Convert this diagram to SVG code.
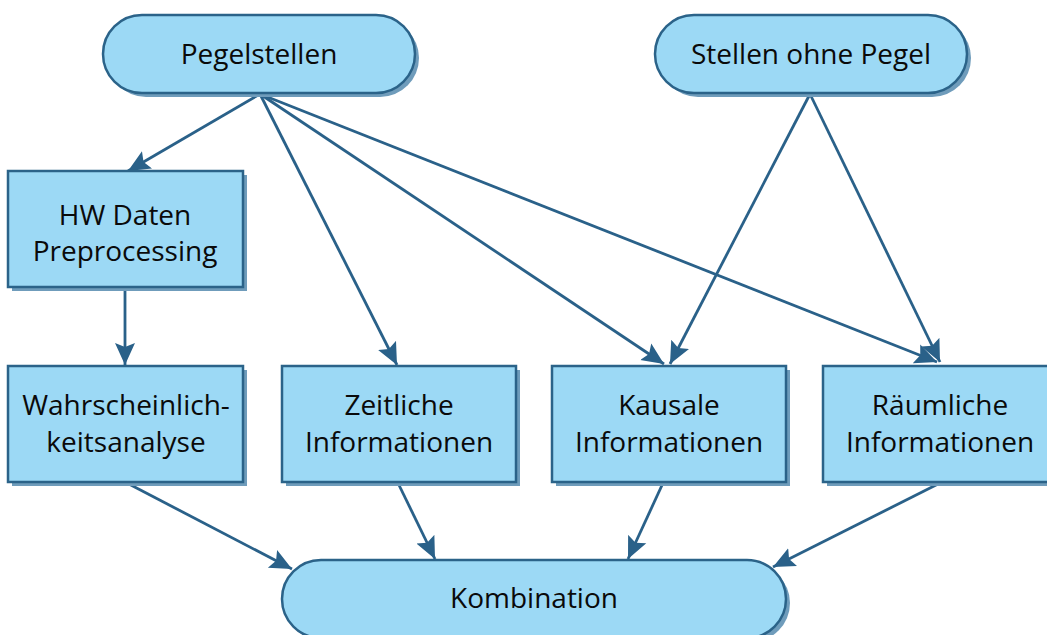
<svg xmlns="http://www.w3.org/2000/svg" width="1047" height="635" viewBox="0 0 1047 635">
<defs>
<style>
.n{fill:#9cd9f5;stroke:#2b6389;stroke-width:2.5}
.s{fill:#6f9cbb}
.t{font-family:"Open Sans","Liberation Sans",sans-serif;font-size:28px;fill:#0a0a0a;text-anchor:middle}
.c{fill:none;stroke:#2a6189;stroke-width:2.8;marker-end:url(#a)}
</style>
<marker id="a" markerUnits="userSpaceOnUse" markerWidth="24" markerHeight="22" refX="22" refY="10" orient="auto" viewBox="0 0 24 20">
<path d="M0,0 L22,10 L0,20 L4,10 Z" fill="#2a6189"/>
</marker>
</defs>
<rect width="1047" height="635" fill="#fff"/>
<g id="connectors">
<line class="c" x1="260" y1="94" x2="128" y2="171"/>
<line class="c" x1="260" y1="94" x2="397" y2="365"/>
<line class="c" x1="260" y1="94" x2="664" y2="364"/>
<line class="c" x1="260" y1="94" x2="937" y2="362"/>
<line class="c" x1="810" y1="94" x2="670" y2="364"/>
<line class="c" x1="810" y1="94" x2="940" y2="362"/>
<line class="c" x1="125" y1="288" x2="125" y2="365"/>
<line class="c" x1="127" y1="483" x2="292" y2="569"/>
<line class="c" x1="398" y1="483" x2="435" y2="559"/>
<line class="c" x1="663" y1="483" x2="628" y2="559"/>
<line class="c" x1="940" y1="483" x2="773" y2="567"/>
</g>
<g id="pegelstellen">
<rect class="s" x="107" y="19" width="312" height="78" rx="39"/>
<rect class="n" x="103" y="15" width="312" height="78" rx="39"/>
<text class="t" x="259" y="64">Pegelstellen</text>
</g>
<g id="stellen-ohne-pegel">
<rect class="s" x="659" y="19" width="312" height="78" rx="39"/>
<rect class="n" x="655" y="15" width="312" height="78" rx="39"/>
<text class="t" x="811" y="64">Stellen ohne Pegel</text>
</g>
<g id="hw-daten">
<rect class="s" x="12" y="175" width="235" height="116"/>
<rect class="n" x="8" y="171" width="235" height="116"/>
<text class="t" x="125" y="225">HW Daten</text>
<text class="t" x="125" y="261">Preprocessing</text>
</g>
<g id="wahrscheinlichkeit">
<rect class="s" x="12" y="370" width="235" height="116"/>
<rect class="n" x="8" y="366" width="235" height="116"/>
<text class="t" x="126" y="415">Wahrscheinlich-</text>
<text class="t" x="126" y="452">keitsanalyse</text>
</g>
<g id="zeitliche">
<rect class="s" x="286" y="370" width="234" height="116"/>
<rect class="n" x="282" y="366" width="234" height="116"/>
<text class="t" x="399" y="415">Zeitliche</text>
<text class="t" x="399" y="452">Informationen</text>
</g>
<g id="kausale">
<rect class="s" x="556" y="370" width="234" height="116"/>
<rect class="n" x="552" y="366" width="234" height="116"/>
<text class="t" x="669" y="415">Kausale</text>
<text class="t" x="669" y="452">Informationen</text>
</g>
<g id="raeumliche">
<rect class="s" x="827" y="370" width="234" height="116"/>
<rect class="n" x="823" y="366" width="234" height="116"/>
<text class="t" x="940" y="415">Räumliche</text>
<text class="t" x="940" y="452">Informationen</text>
</g>
<g id="kombination">
<rect class="s" x="286" y="564" width="504" height="78" rx="39"/>
<rect class="n" x="282" y="560" width="504" height="78" rx="39"/>
<text class="t" x="534" y="608">Kombination</text>
</g>
</svg>
